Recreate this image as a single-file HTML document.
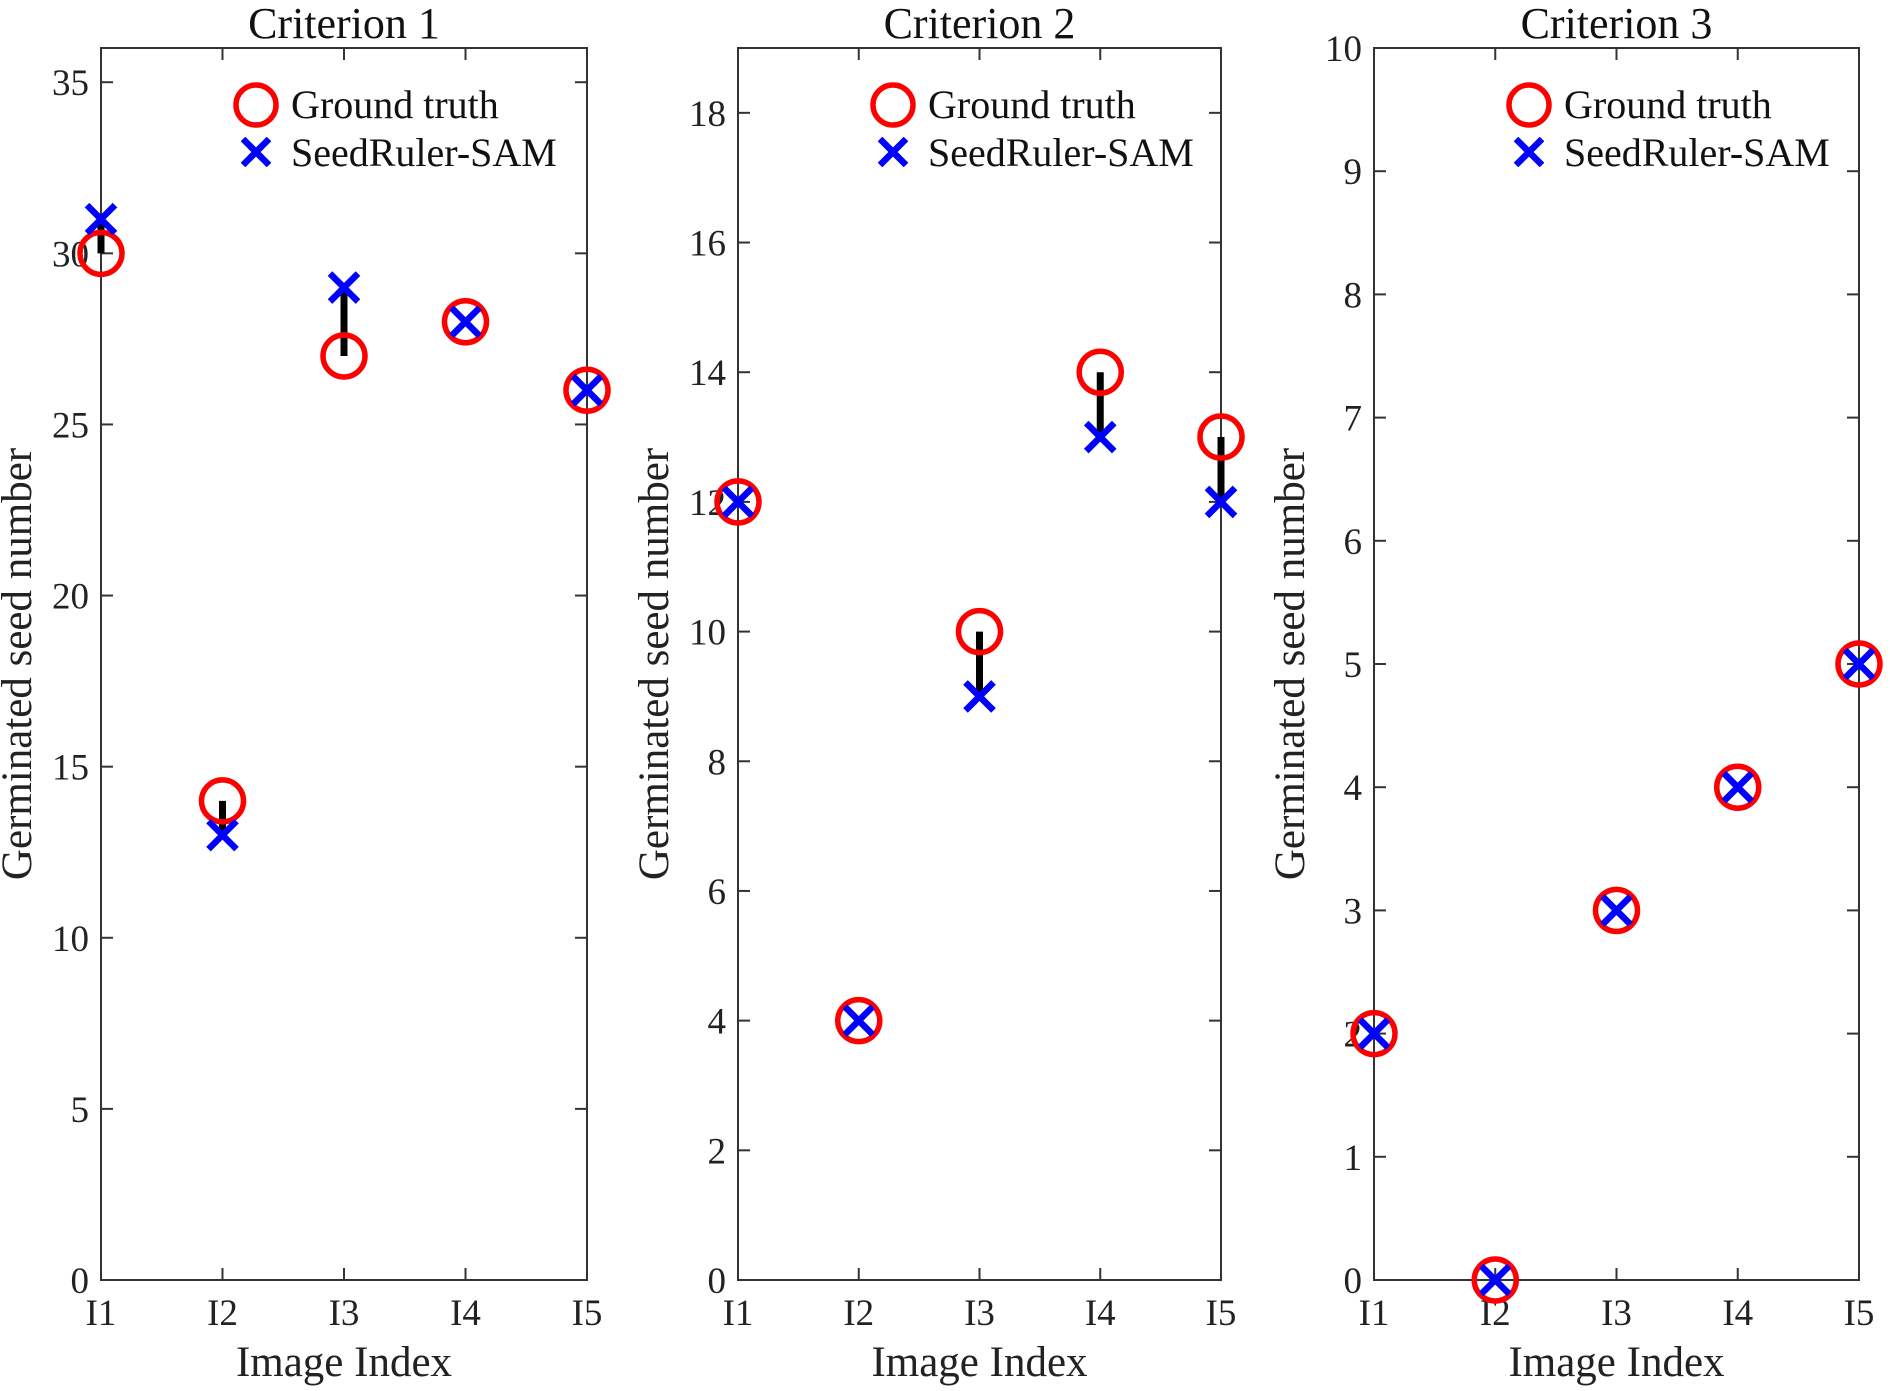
<!DOCTYPE html>
<html><head><meta charset="utf-8"><style>
html,body{margin:0;padding:0;background:#fff;}
svg{display:block;font-family:"Liberation Serif",serif;}
</style></head><body>
<svg id="chart" width="1890" height="1391" viewBox="0 0 1890 1391"></svg>
<script>
const categories = ["I1","I2","I3","I4","I5"];
const titles = ["Criterion 1","Criterion 2","Criterion 3"];
const groundTruth1 = [30,14,27,28,26];
const predicted1 = [31,13,29,28,26];
const groundTruth2 = [12,4,10,14,13];
const predicted2 = [12,4,9,13,12];
const groundTruth3 = [2,0,3,4,5];
const predicted3 = [2,0,3,4,5];
const yTicks1 = [0,5,10,15,20,25,30,35];
const yTicks2 = [0,2,4,6,8,10,12,14,16,18];
const yTicks3 = [0,1,2,3,4,5,6,7,8,9,10];
const yMax = [36,19,10];

const svgEl = document.getElementById('chart');
const NS = "http://www.w3.org/2000/svg";
function mk(tag, attrs, parent){const e=document.createElementNS(NS,tag);for(const k in attrs)e.setAttribute(k,attrs[k]);(parent||svgEl).appendChild(e);return e;}

const panels = [
  {left:101,right:587,gt:groundTruth1,pr:predicted1,ticks:yTicks1,max:yMax[0],title:titles[0]},
  {left:738,right:1221,gt:groundTruth2,pr:predicted2,ticks:yTicks2,max:yMax[1],title:titles[1]},
  {left:1374,right:1859,gt:groundTruth3,pr:predicted3,ticks:yTicks3,max:yMax[2],title:titles[2]}
];
const plotTop=48,plotBottom=1280;

panels.forEach((p,pi)=>{
  const g=mk('g',{});
  
  
  const xs=i=>p.left+(p.right-p.left)*i/(categories.length-1);
  const ys=v=>plotBottom-(plotBottom-plotTop)*v/p.max;
  const box=mk('rect',{x:p.left,y:plotTop,width:p.right-p.left,height:plotBottom-plotTop,fill:'none',stroke:'#333','stroke-width':2},g);
  
  
  const t=mk('text',{x:(p.left+p.right)/2,y:38,'font-size':44,'text-anchor':'middle',fill:'#111'},g);
  t.textContent=p.title;
  
  
  p.ticks.forEach(v=>{
    const y=ys(v);
    mk('line',{x1:p.left,x2:p.left+12,y1:y,y2:y,stroke:'#333','stroke-width':2},g);
    mk('line',{x1:p.right,x2:p.right-12,y1:y,y2:y,stroke:'#333','stroke-width':2},g);
    const l=mk('text',{x:p.left-12,y:y+13,'font-size':37,'text-anchor':'end',fill:'#222'},g);
    l.textContent=v;
    
    
  });
  categories.forEach((c,i)=>{
    const x=xs(i);
    mk('line',{x1:x,x2:x,y1:plotBottom,y2:plotBottom-12,stroke:'#333','stroke-width':2},g);
    mk('line',{x1:x,x2:x,y1:plotTop,y2:plotTop+12,stroke:'#333','stroke-width':2},g);
    const l=mk('text',{x:x,y:1325,'font-size':37,'text-anchor':'middle',fill:'#222'},g);
    l.textContent=c;
    
    
  });
  const xl=mk('text',{x:(p.left+p.right)/2,y:1376,'font-size':43,'text-anchor':'middle',fill:'#222'},g);
  xl.textContent='Image Index';
  
  
  const yx=p.left-70, yy=(plotTop+plotBottom)/2;
  const yl=mk('text',{x:yx,y:yy,'font-size':43,'text-anchor':'middle',fill:'#222',transform:`rotate(-90 ${yx} ${yy})`},g);
  yl.textContent='Germinated seed number';
  
  
  p.gt.forEach((v,i)=>{
    if(v!==p.pr[i]){
      const e=mk('line',{x1:xs(i),x2:xs(i),y1:ys(v),y2:ys(p.pr[i]),stroke:'#000','stroke-width':7},g);
      
      
    }
  });
  p.gt.forEach((v,i)=>{
    const c=mk('circle',{cx:xs(i),cy:ys(v),r:21,fill:'none',stroke:'#f00','stroke-width':5.5},g);
    
    
  });
  p.pr.forEach((v,i)=>{
    const x=xs(i),y=ys(v),s=14;
    const m=mk('path',{d:`M${x-s} ${y-s}L${x+s} ${y+s}M${x-s} ${y+s}L${x+s} ${y-s}`,stroke:'#00f','stroke-width':6.5,fill:'none'},g);
    
    
  });
  const lg=mk('g',{},g);
  
  
  const lx=p.left+155;
  mk('circle',{cx:lx,cy:105,r:20,fill:'none',stroke:'#f00','stroke-width':5.5},lg);
  const lt1=mk('text',{x:lx+35,y:118,'font-size':40,fill:'#111'},lg);
  lt1.textContent='Ground truth';
  
  
  const s=13;
  mk('path',{d:`M${lx-s} ${152-s}L${lx+s} ${152+s}M${lx-s} ${152+s}L${lx+s} ${152-s}`,stroke:'#00f','stroke-width':6.5},lg);
  const lt2=mk('text',{x:lx+35,y:166,'font-size':40,fill:'#111'},lg);
  lt2.textContent='SeedRuler-SAM';
  
  
});
</script>
</body></html>
